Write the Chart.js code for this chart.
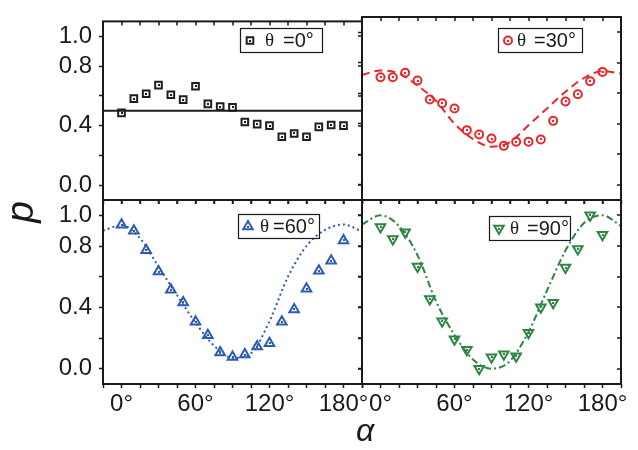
<!DOCTYPE html>
<html>
<head>
<meta charset="utf-8">
<script src="https://cdn.jsdelivr.net/npm/chart.js@4/dist/chart.umd.min.js"></script>
<style>
  html, body { margin: 0; padding: 0; background: #fff; }
  #wrap { position: relative; width: 638px; height: 450px; overflow: hidden; }
  #wrap canvas { position: absolute; left: 0; top: 0; }
  .title { position: absolute; font-family: "Liberation Sans", Arial, sans-serif; font-style: italic; color: #1a1a1a; text-align: center; }
</style>
</head>
<body>
<div id="wrap">
  <canvas id="c0" width="638" height="450"></canvas>
  <canvas id="c30" width="638" height="450"></canvas>
  <canvas id="c60" width="638" height="450"></canvas>
  <canvas id="c90" width="638" height="450"></canvas>
  <div class="title" id="ytitle" style="left:0px;top:192px;width:40px;height:40px;line-height:40px;font-size:39px;transform:rotate(-90deg);">p</div>
  <div class="title" id="xtitle" style="left:345px;top:414px;width:40px;line-height:1;font-size:32px;">α</div>
</div>
<script>
// measured points: analyser angle alpha (deg)
var alpha = [0, 10, 20, 30, 40, 50, 60, 70, 80, 90, 100, 110, 120, 130, 140, 150, 160, 170, 180];
var p0  = [0.485, 0.581, 0.614, 0.672, 0.607, 0.574, 0.664, 0.546, 0.528, 0.522, 0.424, 0.410, 0.400, 0.325, 0.347, 0.325, 0.391, 0.404, 0.400];
var p30 = [0.705, 0.705, 0.734, 0.683, 0.559, 0.535, 0.500, 0.358, 0.330, 0.303, 0.255, 0.282, 0.282, 0.297, 0.419, 0.546, 0.594, 0.679, 0.740];
var p60 = [0.939, 0.900, 0.773, 0.633, 0.515, 0.432, 0.306, 0.218, 0.105, 0.076, 0.092, 0.144, 0.166, 0.306, 0.386, 0.522, 0.638, 0.703, 0.836];
var p90 = [0.924, 0.845, 0.889, 0.666, 0.454, 0.310, 0.192, 0.124, 0.000, 0.074, 0.094, 0.081, 0.234, 0.400, 0.430, 0.659, 0.780, 1.000, 0.873];

// fitted curves
var lineAlpha0 = [-15, 195];
var fit0 = [0.5, 0.5];
var fitAlpha = [-15, 0, 15, 30, 45, 60, 75, 90, 105, 120, 135, 150, 165, 180, 195];
var fit30 = [0.72, 0.75, 0.73, 0.65, 0.55, 0.40, 0.30, 0.25, 0.28, 0.39, 0.50, 0.61, 0.70, 0.745, 0.73];
var fit60 = [0.90, 0.935, 0.85, 0.665, 0.48, 0.30, 0.15, 0.07, 0.10, 0.31, 0.60, 0.80, 0.905, 0.94, 0.895];
var fit90 = [0.94, 1.00, 0.93, 0.74, 0.44, 0.22, 0.06, 0.00, 0.05, 0.24, 0.51, 0.77, 0.95, 1.00, 0.93];

// axes
var xTicks = [-15, 0, 15, 30, 45, 60, 75, 90, 105, 120, 135, 150, 165, 180, 195];
var xLabels = [0, 60, 120, 180];
var yTicks = [0, 0.2, 0.4, 0.6, 0.8, 1.0];
var yLabels = [0, 0.4, 0.8, 1.0];
var legendText = ['0°', '30°', '60°', '90°'];

var ink = '#1a1a1a';
var sans = '"Liberation Sans", Arial, sans-serif';
var W = 50, H = 40;

var panels = [
  { id: 'c0',  pts: p0,  fx: lineAlpha0, fit: fit0,  color: '#1e1e1e', style: 'rect',     rot: 0,   r: 4.7, dash: [],          tension: 0,
    area: { l: 103, t: 17,  r: 362, b: 200 }, xLab: false, yLab: true,
    leg: { x: 240, y: 28,  w: 82, h: 24, th: 25, eq: 43 }, text: legendText[0] },
  { id: 'c30', pts: p30, fx: fitAlpha,   fit: fit30, color: '#e8262b', style: 'circle',   rot: 0,   r: 4,   dash: [8, 5],      tension: 0.4,
    area: { l: 362, t: 17,  r: 621, b: 200 }, xLab: false, yLab: false,
    leg: { x: 498, y: 28,  w: 84, h: 24, th: 19, eq: 36 }, text: legendText[1] },
  { id: 'c60', pts: p60, fx: fitAlpha,   fit: fit60, color: '#2c5cb0', style: 'triangle', rot: 0,   r: 5.5, dash: [2, 3],      tension: 0.4,
    area: { l: 103, t: 200, r: 362, b: 384 }, xLab: true,  yLab: true,
    leg: { x: 238, y: 214, w: 81, h: 24, th: 22, eq: 35 }, text: legendText[2] },
  { id: 'c90', pts: p90, fx: fitAlpha,   fit: fit90, color: '#2e8540', style: 'triangle', rot: 180, r: 5.5, dash: [7, 3, 2, 3], tension: 0.4,
    area: { l: 362, t: 200, r: 621, b: 384 }, xLab: true,  yLab: false,
    leg: { x: 489, y: 216, w: 81, h: 24, th: 21, eq: 38 }, text: legendText[3] }
];

// frame, inner ticks, centre dots and the boxed legend
var panelDeco = {
  id: 'panelDeco',
  afterDraw: function (chart) {
    var pn = chart.options.plugins.panelDeco;
    var a = chart.chartArea, ctx = chart.ctx;
    var xs = chart.scales.x, ys = chart.scales.y;
    ctx.save();
    ctx.strokeStyle = ink;
    ctx.lineWidth = 1.5;
    ctx.beginPath();
    xTicks.forEach(function (v) {
      var px = Math.round(xs.getPixelForValue(v));
      ctx.moveTo(px, a.top); ctx.lineTo(px, a.top + 4);
    });
    yTicks.forEach(function (v) {
      var py = Math.round(ys.getPixelForValue(v));
      ctx.moveTo(a.right, py); ctx.lineTo(a.right - 4, py);
    });
    ctx.stroke();
    ctx.lineWidth = 2;
    ctx.strokeRect(a.left, a.top, a.right - a.left, a.bottom - a.top);

    // small dot in the middle of every marker
    ctx.fillStyle = pn.color;
    chart.getDatasetMeta(0).data.forEach(function (pt) {
      ctx.fillRect(Math.round(pt.x) - 1, Math.round(pt.y) - 1, 2, 2);
    });

    // legend box
    var L = pn.leg;
    ctx.lineWidth = 1.2;
    ctx.strokeStyle = ink;
    ctx.strokeRect(L.x + 0.5, L.y + 0.5, L.w, L.h);
    var cy = L.y + L.h / 2 + 0.5;
    ctx.strokeStyle = pn.color;
    ctx.fillStyle = 'rgba(0,0,0,0)';
    ctx.lineWidth = 2;
    Chart.helpers.drawPoint(ctx, { pointStyle: pn.style, rotation: pn.rot, radius: pn.r, borderWidth: 2 }, L.x + 10, cy);
    ctx.fillStyle = pn.color;
    ctx.fillRect(L.x + 9, Math.round(cy) - 1, 2, 2);
    ctx.fillStyle = ink;
    ctx.textBaseline = 'middle';
    ctx.textAlign = 'left';
    ctx.font = '19px "Liberation Serif", "Times New Roman", serif';
    ctx.fillText('θ', L.x + L.th, cy + 1);
    ctx.font = '20px ' + sans;
    ctx.fillText('=' + pn.text, L.x + L.eq, cy + 1);
    ctx.restore();
  }
};

panels.forEach(function (pn) {
  var pts = alpha.map(function (a, i) { return { x: a, y: pn.pts[i] }; });
  var fit = pn.fx.map(function (a, i) { return { x: a, y: pn.fit[i] }; });
  new Chart(document.getElementById(pn.id), {
    type: 'scatter',
    data: {
      datasets: [
        { data: pts, showLine: false, pointStyle: pn.style, rotation: pn.rot, pointRadius: pn.r,
          pointBorderWidth: 2, borderColor: pn.color, backgroundColor: 'rgba(0,0,0,0)' },
        { data: fit, showLine: true, pointRadius: 0, borderColor: pn.color, borderWidth: 2,
          borderDash: pn.dash, tension: pn.tension, cubicInterpolationMode: 'monotone' }
      ]
    },
    options: {
      responsive: false,
      animation: false,
      events: [],
      layout: { padding: { left: pn.area.l - W, top: pn.area.t, right: 638 - pn.area.r, bottom: 450 - pn.area.b - H } },
      plugins: {
        legend: { display: false },
        tooltip: { enabled: false },
        panelDeco: pn
      },
      scales: {
        x: {
          type: 'linear', min: -15, max: 195,
          afterFit: function (s) { s.height = H; },
          afterBuildTicks: function (s) { s.ticks = xTicks.map(function (v) { return { value: v }; }); },
          border: { display: false },
          grid: { drawOnChartArea: false, drawTicks: true, tickLength: 4, tickColor: ink, tickWidth: 1.5 },
          ticks: {
            display: pn.xLab, autoSkip: false, maxRotation: 0, minRotation: 0, padding: 2, color: ink,
            font: { family: sans, size: 24 },
            callback: function (v) { return xLabels.indexOf(v) >= 0 ? v + '°' : ''; }
          }
        },
        y: {
          type: 'linear', min: -0.1, max: 1.1,
          afterFit: function (s) { s.width = W; },
          afterBuildTicks: function (s) { s.ticks = yTicks.map(function (v) { return { value: v }; }); },
          border: { display: false },
          grid: { drawOnChartArea: false, drawTicks: true, tickLength: 4, tickColor: ink, tickWidth: 1.5 },
          ticks: {
            display: pn.yLab, padding: 7, color: ink,
            font: { family: sans, size: 24 },
            callback: function (v) { return yLabels.indexOf(v) >= 0 ? v.toFixed(1) : ''; }
          }
        }
      }
    },
    plugins: [panelDeco]
  });
});
</script>
</body>
</html>
